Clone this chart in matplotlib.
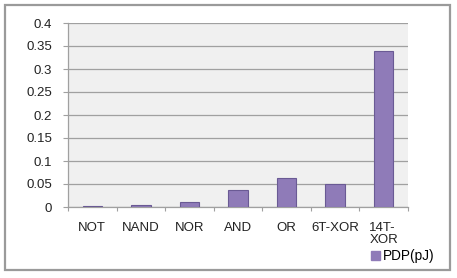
import matplotlib
matplotlib.use("Agg")
import matplotlib.pyplot as plt
from matplotlib.patches import Rectangle, Patch

categories = ["NOT", "NAND", "NOR", "AND", "OR", "6T-XOR", "14T-\nXOR"]
pdp = [0.002, 0.004, 0.011, 0.038, 0.062, 0.050, 0.339]
yticks = [0, 0.05, 0.1, 0.15, 0.2, 0.25, 0.3, 0.35, 0.4]
ytick_labels = ["0", "0.05", "0.1", "0.15", "0.2", "0.25", "0.3", "0.35", "0.4"]
series_name = "PDP(pJ)"

plt.rcParams['font.family'] = ['Liberation Sans', 'DejaVu Sans']
W, H = 457, 278
fig = plt.figure(figsize=(W/100, H/100), dpi=100)
fig.patch.set_facecolor("white")

# outer chart frame
fig.patches.append(Rectangle((5/W, 1-270/H), (450-5)/W, (270-5)/H,
                             transform=fig.transFigure, fill=False,
                             edgecolor="#9a9a9a", linewidth=1.6))

ax = fig.add_axes([68/W, 1-207/H, (408-68)/W, (207-23)/H])
ax.set_facecolor("#f0f0f0")
x = list(range(len(categories)))
ax.bar(x, pdp, width=0.4, color="#8f7bb8", edgecolor="#6a5a94", linewidth=0.8, zorder=3)
ax.set_xlim(-0.5, len(categories)-0.5)
ax.set_ylim(0, 0.4)
ax.set_yticks(yticks)
ax.set_yticklabels(ytick_labels)
ax.yaxis.grid(True, color="#a0a0a0", linewidth=0.9, zorder=0)
ax.set_axisbelow(True)
for s in ["top", "right"]:
    ax.spines[s].set_visible(False)
for s in ["left", "bottom"]:
    ax.spines[s].set_color("#a0a0a0")
    ax.spines[s].set_linewidth(0.9)
ax.tick_params(axis="y", length=3.6, color="#a0a0a0", pad=8, labelsize=9.5, labelcolor="#222222")
ax.set_xticks([i + 0.5 for i in range(-1, len(categories))], minor=False)
ax.set_xticklabels([""] * (len(categories) + 1))
ax.tick_params(axis="x", which="major", length=3, color="#a0a0a0")
ax.set_xticks(x, minor=True)
labels = ax.set_xticklabels(categories, minor=True, va="top", ha="center", linespacing=1.0)
labels[-1].set_multialignment("left")
ax.tick_params(axis="x", which="minor", length=0, pad=11, labelsize=9.5, labelcolor="#222222")

handles = [Patch(facecolor="#8f7bb8", edgecolor="#8f7bb8")]
fig.legend(handles, [series_name], loc="center left", bbox_to_anchor=(371/W, 1-256/H),
           frameon=False, fontsize=9.8, handlelength=0.65, handleheight=0.65,
           handletextpad=0.25, borderpad=0, borderaxespad=0)

fig.savefig("out.png", dpi=100)
